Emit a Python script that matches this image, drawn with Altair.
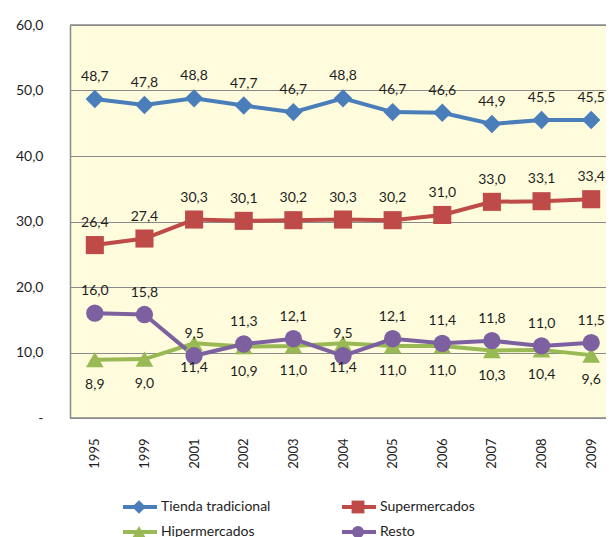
import altair as alt
import pandas as pd

years = ["1995", "1999", "2001", "2002", "2003", "2004", "2005", "2006", "2007", "2008", "2009"]
series = ["Tienda tradicional", "Supermercados", "Hipermercados", "Resto"]
tienda = [48.7, 47.8, 48.8, 47.7, 46.7, 48.8, 46.7, 46.6, 44.9, 45.5, 45.5]
supermercados = [26.4, 27.4, 30.3, 30.1, 30.2, 30.3, 30.2, 31.0, 33.0, 33.1, 33.4]
hipermercados = [8.9, 9.0, 11.4, 10.9, 11.0, 11.4, 11.0, 11.0, 10.3, 10.4, 9.6]
resto = [16.0, 15.8, 9.5, 11.3, 12.1, 9.5, 12.1, 11.4, 11.8, 11.0, 11.5]
y_ticks = [0, 10, 20, 30, 40, 50, 60]

colors = ["#4A7EBB", "#BE4B48", "#98B954", "#7D60A0"]
shapes = ["diamond", "square", "triangle-up", "circle"]
sizes = [340, 300, 340, 270]
label_side = ["above", "above", "below", "above"]

FONT = "Lato"
TXT = "#1e1e1e"
GRID = "#8a8a8a"
W, H = 536, 393

values = [tienda, supermercados, hipermercados, resto]
rows = []
for si, (name, vals) in enumerate(zip(series, values)):
    for y, v in zip(years, vals):
        rows.append({"serie": name, "year": y, "value": v, "order": si,
                     "label": f"{v:.1f}".replace(".", ","), "side": label_side[si]})
df = pd.DataFrame(rows)

x_enc = alt.X("year:O", sort=years, scale=alt.Scale(padding=0.5, range=[0, 546]),
              axis=alt.Axis(title=None, labelAngle=-90, ticks=False, domain=False,
                            labelPadding=20, labelFont=FONT, labelFontSize=13,
                            labelColor=TXT, grid=False))
y_enc = alt.Y("value:Q", scale=alt.Scale(domain=[0, 60], nice=False),
              axis=alt.Axis(title=None, values=y_ticks, ticks=False, labelPadding=27,
                            labelExpr="datum.value == 0 ? '-\u00a0\u00a0\u00a0\u00a0' : replace(format(datum.value, '.1f'), '.', ',')",
                            labelFont=FONT, labelFontSize=14, labelColor=TXT,
                            gridColor=GRID, gridWidth=1, domainColor=GRID, domainWidth=1.5))
color_enc = alt.Color("serie:N", scale=alt.Scale(domain=series, range=colors), legend=None)

base = alt.Chart(df)

# plot frame: top and bottom borders (right edge runs off the page as in the original)
frame_d = alt.Chart(pd.DataFrame({"k": [0]}))
top_border = frame_d.mark_rule(color=GRID, strokeWidth=1.5).encode(
    x=alt.value(0), x2=alt.value(W), y=alt.value(0))
bottom_border = frame_d.mark_rule(color=GRID, strokeWidth=1.5).encode(
    x=alt.value(0), x2=alt.value(W), y=alt.value(H))

lines = base.mark_line(strokeWidth=4).encode(x=x_enc, y=y_enc, color=color_enc,
                                            detail="serie:N", order="order:Q")
points = base.mark_point(filled=True, opacity=1).encode(
    x=x_enc, y=y_enc, color=color_enc,
    shape=alt.Shape("serie:N", scale=alt.Scale(domain=series, range=shapes), legend=None),
    size=alt.Size("serie:N", scale=alt.Scale(domain=series, range=sizes), legend=None),
    order="order:Q")
text_above = base.transform_filter(alt.datum.side == "above").mark_text(
    dy=-22, font=FONT, fontSize=14, color=TXT).encode(x=x_enc, y=y_enc, text="label:N")
text_below = base.transform_filter(alt.datum.side == "below").mark_text(
    dy=25, font=FONT, fontSize=14, color=TXT).encode(x=x_enc, y=y_enc, text="label:N")

layers = [lines, points, text_above, text_below, top_border, bottom_border]

# manual legend (two columns, two rows)
for i, name in enumerate(series):
    row, col = i // 2, i % 2
    x0 = 53 + col * 219
    yy = 482 + row * 25
    ld = alt.Chart(pd.DataFrame({"serie": [name]}))
    layers.append(ld.mark_rule(strokeWidth=4, color=colors[i]).encode(
        x=alt.value(x0), x2=alt.value(x0 + 34), y=alt.value(yy)))
    layers.append(ld.mark_point(filled=True, opacity=1, shape=shapes[i], color=colors[i],
                                size=sizes[i] * 0.55).encode(
        x=alt.value(x0 + 16), y=alt.value(yy)))
    layers.append(ld.mark_text(align="left", baseline="middle", font=FONT, fontSize=14,
                               color=TXT).encode(
        x=alt.value(x0 + 38), y=alt.value(yy), text="serie:N"))

chart = alt.layer(*layers).properties(
    width=W, height=H,
    autosize=alt.AutoSizeParams(type="none"),
    padding={"left": 62, "top": 17, "right": 0, "bottom": 119},
    background="white",
).configure_view(fill="#FEFCDC", stroke=None)

chart.save("out.html", embed_options={"renderer": "svg", "actions": False})
